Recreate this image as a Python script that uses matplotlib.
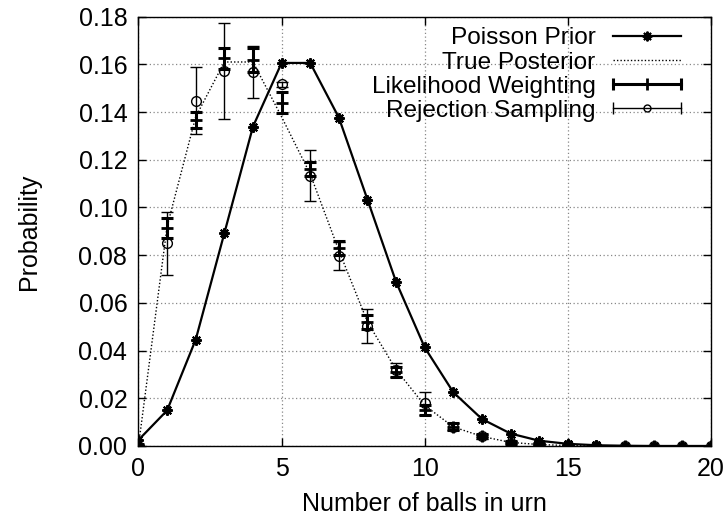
import matplotlib
matplotlib.use("Agg")
import matplotlib.pyplot as plt
from matplotlib.lines import Line2D
from matplotlib.legend_handler import HandlerLine2D, HandlerTuple
import numpy as np

balls = list(range(21))
prior = [0.0025, 0.0149, 0.0446, 0.0892, 0.1339, 0.1606, 0.1606, 0.1377, 0.1033,
         0.0688, 0.0413, 0.0225, 0.0113, 0.0052, 0.0022, 0.0009, 0.0003, 0.0001,
         0.0, 0.0, 0.0]
posterior = [0.0, 0.092, 0.138, 0.161, 0.161, 0.138, 0.114, 0.082, 0.052, 0.032,
             0.017, 0.008, 0.004, 0.0015, 0.0006, 0.0002, 0.0, 0.0, 0.0, 0.0, 0.0]
lw_mean = [0.0005, 0.0913, 0.1367, 0.1625, 0.162, 0.144, 0.116, 0.083, 0.052, 0.031,
           0.015, 0.008, 0.0042, 0.0015, 0.0007, 0.0003, 0.0, 0.0, 0.0, 0.0, 0.0]
lw_err = [0.0005, 0.0041, 0.0035, 0.0045, 0.005, 0.0045, 0.003, 0.003, 0.003, 0.002,
          0.002, 0.0015, 0.001, 0.0006, 0.0004, 0.0002, 0.0, 0.0, 0.0, 0.0, 0.0]
rs_mean = [0.0, 0.085, 0.1448, 0.1574, 0.1568, 0.1517, 0.1134, 0.0797, 0.0503, 0.0319,
           0.0179, 0.008, 0.004, 0.0014, 0.0007, 0.0002, 0.0, 0.0, 0.0, 0.0, 0.0]
rs_err = [0.0005, 0.0133, 0.0139, 0.0201, 0.0108, 0.001, 0.0105, 0.0059, 0.0073, 0.003,
          0.0049, 0.0015, 0.001, 0.0006, 0.0004, 0.0002, 0.0, 0.0, 0.0, 0.0, 0.0]

plt.rcParams['font.family'] = ['Liberation Sans', 'DejaVu Sans']
plt.rcParams['font.size'] = 18

fig = plt.figure(figsize=(7.28, 5.21), dpi=100)
ax = fig.add_axes([0.1902, 0.1440, 0.7864, 0.8240])

ax.grid(True, color='#888888', linestyle=(0, (1, 2)), linewidth=0.9)
ax.set_axisbelow(True)

star = (8, 2, 0)
ax.plot(balls, prior, color='black', lw=1.6, marker=star, ms=7.5, mew=1.5, zorder=3)
ax.plot(balls, posterior, color='black', lw=1.0, linestyle=(0, (1, 1.5)), zorder=3)
ax.errorbar(balls, lw_mean, yerr=lw_err, fmt='none', ecolor='black', elinewidth=2.2,
            capsize=4, capthick=2.2, zorder=4)
ax.plot(balls, lw_mean, ls='none', marker='+', ms=8, mew=2, color='black', zorder=4)
ax.errorbar(balls, rs_mean, yerr=rs_err, fmt='none', ecolor='black', elinewidth=1.0,
            capsize=4, capthick=1.0, zorder=5)
ax.plot(balls, rs_mean, ls='none', marker='o', ms=7, mfc='none', mec='black', mew=1.0, zorder=5)

ax.set_xlim(0, 20)
ax.set_ylim(0, 0.18)
ax.set_xticks([0, 5, 10, 15, 20])
ax.set_yticks(np.arange(0, 0.181, 0.02))
ax.yaxis.set_major_formatter(matplotlib.ticker.FormatStrFormatter('%.2f'))
ax.tick_params(direction='in', top=True, right=True, length=6, width=1, labelsize=18, pad=8)
for s in ax.spines.values():
    s.set_linewidth(1.0)

ax.set_xlabel('Number of balls in urn', fontsize=18, labelpad=8)
ax.set_ylabel('Probability', fontsize=18, labelpad=27)

# legend handles in gnuplot style: text first, sample line with end caps
h_prior = Line2D([], [], color='black', lw=1.6, marker=star, ms=7, mew=1.4)
h_post = Line2D([], [], color='black', lw=1.0, linestyle=(0, (1, 1.5)))
h_lw = Line2D([], [], color='black', lw=2.2, marker='+', ms=8, mew=2)
h_lw_caps = Line2D([], [], color='black', ls='none', marker='|', ms=8, mew=2.2)
h_rs = Line2D([], [], color='black', lw=1.0, marker='o', ms=5, mfc='none', mew=1.0)
h_rs_caps = Line2D([], [], color='black', ls='none', marker='|', ms=8, mew=1.0)

caps = HandlerLine2D(numpoints=2, marker_pad=0)
ax.legend([h_prior, h_post, (h_lw, h_lw_caps), (h_rs, h_rs_caps)],
          ['Poisson Prior', 'True Posterior', 'Likelihood Weighting', 'Rejection Sampling'],
          loc='upper right', bbox_to_anchor=(0.9775, 1.015), frameon=False, markerfirst=False,
          handlelength=2.8, handletextpad=0.7, labelspacing=0.08, borderpad=0.2,
          fontsize=17.6,
          handler_map={tuple: HandlerTuple(ndivide=1, pad=0), h_lw_caps: caps, h_rs_caps: caps})

fig.savefig('out.png', dpi=100)
